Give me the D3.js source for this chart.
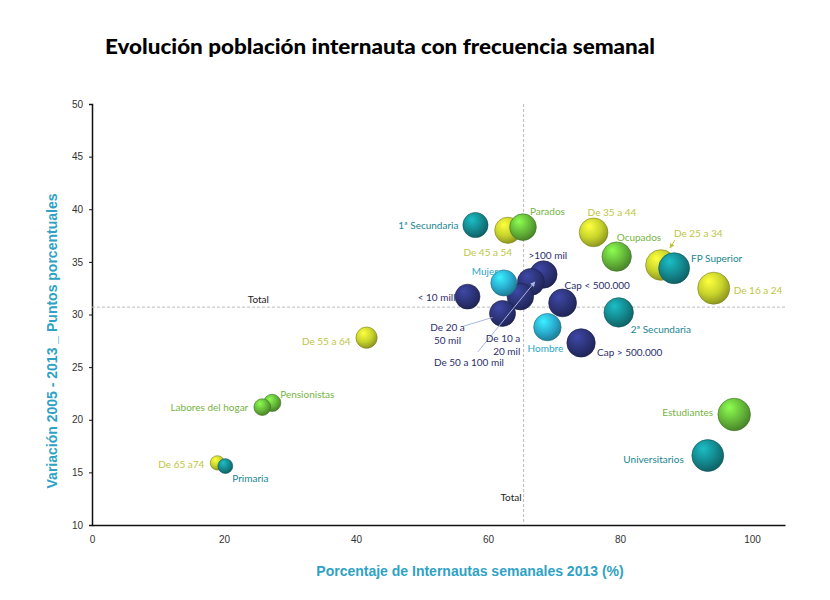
<!DOCTYPE html>
<html>
<head>
<meta charset="utf-8">
<script src="https://cdn.jsdelivr.net/npm/d3@7"></script>
<style>
	body { margin: 0; background: #fff; }
	.tick-label { font-family: 'Liberation Sans', Arial, sans-serif; font-size: 10px; fill: #333; }
	.bubble-label { font-family: Lato, 'Open Sans', sans-serif; font-size: 10px; }
	.axis-title { font-family: 'Liberation Sans', Arial, sans-serif; font-weight: bold; font-size: 14px; fill: #2ea2c4; }
	.ref-label { font-family: Lato, sans-serif; font-size: 10px; fill: #222; }
</style>
</head>
<body>
<div id="chart"></div>
<script>
// data
const names = [
	'1ª Secundaria', 'De 45 a 54', 'Parados', 'De 35 a 44', 'Ocupados', 'De 25 a 34', 'FP Superior',
	'De 16 a 24', '2ª Secundaria', 'Cap > 500.000', 'Cap < 500.000', '>100 mil', 'De 50 a 100 mil',
	'De 10 a 20 mil', 'De 20 a 50 mil', 'Mujer', '< 10 mill', 'Hombre', 'De 55 a 64', 'Pensionistas',
	'Labores del hogar', 'De 65 a74', 'Primaria', 'Estudiantes', 'Universitarios'
];
const pctInternautas = [
	58.1, 63.0, 65.3, 76.0, 79.5, 86.2, 88.2,
	94.2, 79.8, 74.1, 71.3, 68.4, 66.5,
	64.9, 62.2, 62.4, 56.9, 69.0, 41.6, 27.3,
	25.8, 19.0, 20.2, 97.3, 93.3
];
const variacion = [
	38.5, 38.0, 38.3, 37.8, 35.5, 34.7, 34.4,
	32.5, 30.2, 27.3, 31.1, 33.8, 33.1,
	31.7, 30.1, 33.0, 31.7, 28.8, 27.8, 21.6,
	21.2, 15.9, 15.6, 20.5, 16.6
];
const groups = [
	'estudios', 'edad', 'ocupacion', 'edad', 'ocupacion', 'edad', 'estudios',
	'edad', 'estudios', 'habitat', 'habitat', 'habitat', 'habitat',
	'habitat', 'habitat', 'sexo', 'habitat', 'sexo', 'edad', 'ocupacion',
	'ocupacion', 'edad', 'estudios', 'ocupacion', 'estudios'
];
const groupNames = ['edad', 'ocupacion', 'estudios', 'sexo', 'habitat'];
const totalInternautas = 65.4;
const totalVariacion = 30.7;
const xTickValues = [0, 20, 40, 60, 80, 100];
const yTickValues = [10, 15, 20, 25, 30, 35, 40, 45, 50];

// colours and label placement
const ballColors = { edad: '#c8d42c', ocupacion: '#66ba3a', estudios: '#148a90', sexo: '#2aafd2', habitat: '#2d3479' };
const textColors = { edad: '#bdc63e', ocupacion: '#76b443', estudios: '#1a8690', sexo: '#2aa6c9', habitat: '#2b2f6a' };
const labelPos = {
	'1ª Secundaria': [-17, 4, 'end'],
	'De 45 a 54': [-20, 26, 'middle'],
	'Parados': [7, -12, 'start'],
	'De 35 a 44': [-6, -16, 'start'],
	'Ocupados': [0, -16, 'start'],
	'De 25 a 34': [13, -28, 'start'],
	'FP Superior': [17, -6, 'start'],
	'De 16 a 24': [20, 6, 'start'],
	'2ª Secundaria': [12, 21, 'start'],
	'Cap > 500.000': [16, 13, 'start'],
	'Cap < 500.000': [2, -14, 'start'],
	'>100 mil': [-15, -16, 'start'],
	'De 50 a 100 mil': [-62, 84, 'middle'],
	'De 10 a 20 mil': [0, 45, 'end', ['De 10 a', '20 mil']],
	'De 20 a 50 mil': [-55, 18, 'middle', ['De 20 a', '50 mil']],
	'Mujer': [-6, -8, 'end'],
	'< 10 mill': [-12, 4, 'end'],
	'Hombre': [-2, 25, 'middle'],
	'De 55 a 64': [-16, 7, 'end'],
	'Pensionistas': [8, -5, 'start'],
	'Labores del hogar': [-14, 4, 'end'],
	'De 65 a74': [-13, 5, 'end'],
	'Primaria': [7, 16, 'start'],
	'Estudiantes': [-21, 2, 'end'],
	'Universitarios': [-24, 7, 'end']
};

const width = 830, height = 600;
const margin = { top: 104, right: 45, bottom: 75, left: 92 };
const innerW = width - margin.left - margin.right;
const innerH = height - margin.top - margin.bottom;

const svg = d3.select('#chart').append('svg').attr('width', width).attr('height', height);

// gradients for the shiny balls
const defs = svg.append('defs');
groupNames.forEach(g => {
	const base = d3.color(ballColors[g]);
	const grad = defs.append('radialGradient').attr('id', 'grad-' + g)
		.attr('cx', '40%').attr('cy', '35%').attr('r', '70%').attr('fx', '35%').attr('fy', '28%');
	grad.append('stop').attr('offset', '0%').attr('stop-color', base.brighter(0.9));
	grad.append('stop').attr('offset', '55%').attr('stop-color', base);
	grad.append('stop').attr('offset', '100%').attr('stop-color', base.darker(1.1));
	const arrow = defs.append('marker').attr('id', 'arrow-' + g)
		.attr('viewBox', '0 0 10 10').attr('refX', 9).attr('refY', 5)
		.attr('markerWidth', 5).attr('markerHeight', 5).attr('orient', 'auto');
	arrow.append('path').attr('d', 'M0,0L10,5L0,10z').attr('fill', g === 'habitat' ? '#a8b8dc' : textColors[g]);
});

// title
svg.append('text')
	.attr('x', 105).attr('y', 54)
	.attr('font-family', 'Lato, sans-serif').attr('font-weight', 900).attr('font-size', 21)
	.attr('textLength', 550).attr('lengthAdjust', 'spacingAndGlyphs')
	.attr('fill', '#000')
	.text('Evolución población internauta con frecuencia semanal');

const g = svg.append('g').attr('transform', `translate(${margin.left},${margin.top})`);

const xScale = d3.scaleLinear().domain([0, 105]).range([0, innerW]);
const yScale = d3.scaleLinear().domain([10, 50]).range([innerH, 0]);
const rScale = d3.scaleSqrt().domain([0, 100]).range([0, 16.5]);

// axes
const xAxis = d3.axisBottom(xScale).tickValues(xTickValues).tickSize(0).tickPadding(11);
const yAxis = d3.axisLeft(yScale).tickValues(yTickValues).tickSize(3).tickPadding(6);

const xAxisG = g.append('g').attr('transform', `translate(0,${innerH})`).call(xAxis);
const yAxisG = g.append('g').call(yAxis);
[xAxisG, yAxisG].forEach(a => {
	a.select('.domain').attr('stroke', '#111').attr('stroke-width', 1.5);
	a.selectAll('.tick line').attr('stroke', '#111');
	a.selectAll('.tick text').attr('class', 'tick-label').attr('fill', null);
});

// reference lines for the total
g.append('line')
	.attr('x1', 0).attr('x2', innerW)
	.attr('y1', yScale(totalVariacion)).attr('y2', yScale(totalVariacion))
	.attr('stroke', '#bbb').attr('stroke-dasharray', '3,2');
g.append('line')
	.attr('x1', xScale(totalInternautas)).attr('x2', xScale(totalInternautas))
	.attr('y1', 0).attr('y2', innerH)
	.attr('stroke', '#bbb').attr('stroke-dasharray', '3,2');
g.append('text').attr('class', 'ref-label')
	.attr('x', xScale(23.6)).attr('y', yScale(totalVariacion) - 4).text('Total');
g.append('text').attr('class', 'ref-label').attr('text-anchor', 'end')
	.attr('x', xScale(totalInternautas) - 2).attr('y', yScale(12.3)).text('Total');

// axis titles
svg.append('text').attr('class', 'axis-title').attr('text-anchor', 'middle')
	.attr('x', 470).attr('y', 576).text('Porcentaje de Internautas semanales 2013 (%)');
svg.append('text').attr('class', 'axis-title').attr('text-anchor', 'middle')
	.attr('transform', 'translate(57,341) rotate(-90)').text('Variación 2005 - 2013 _ Puntos porcentuales');

const points = names.map((n, i) => ({ name: n, x: pctInternautas[i], y: variacion[i], group: groups[i] }));
const byName = Object.fromEntries(points.map(d => [d.name, d]));

// bubbles
g.selectAll('.ball')
	.data(points)
	.join('circle')
	.attr('class', 'ball')
	.attr('cx', d => xScale(d.x))
	.attr('cy', d => yScale(d.y))
	.attr('r', d => rScale(d.x))
	.attr('fill', d => `url(#grad-${d.group})`)
	.attr('stroke', d => d3.color(ballColors[d.group]).darker(1.4))
	.attr('stroke-width', 0.6);

// leader lines
const leader = (name, fromDx, fromDy, toDx, toDy, arrow) => {
	const d = byName[name];
	const cx = xScale(d.x), cy = yScale(d.y);
	const l = g.append('line')
		.attr('x1', cx + fromDx).attr('y1', cy + fromDy)
		.attr('x2', cx + toDx).attr('y2', cy + toDy)
		.attr('stroke', d.group === 'habitat' ? '#a8b8dc' : textColors[d.group])
		.attr('stroke-width', 1);
	if (arrow) l.attr('marker-end', `url(#arrow-${d.group})`);
};
leader('De 50 a 100 mil', -53, 70, 4, 0, true);
leader('De 20 a 50 mil', -40, 13, -10, 4, false);
leader('De 25 a 34', 14, -25, 9, -17, true);

// labels
points.forEach(d => {
	const [dx, dy, anchor, lines] = labelPos[d.name];
	const t = g.append('text')
		.attr('class', 'bubble-label')
		.attr('text-anchor', anchor)
		.attr('fill', textColors[d.group])
		.attr('x', xScale(d.x) + dx)
		.attr('y', yScale(d.y) + dy);
	if (lines) {
		lines.forEach((s, k) => t.append('tspan')
			.attr('x', xScale(d.x) + dx).attr('dy', k === 0 ? 0 : 13).text(s));
	} else {
		t.text(d.name);
	}
});
</script>
</body>
</html>
